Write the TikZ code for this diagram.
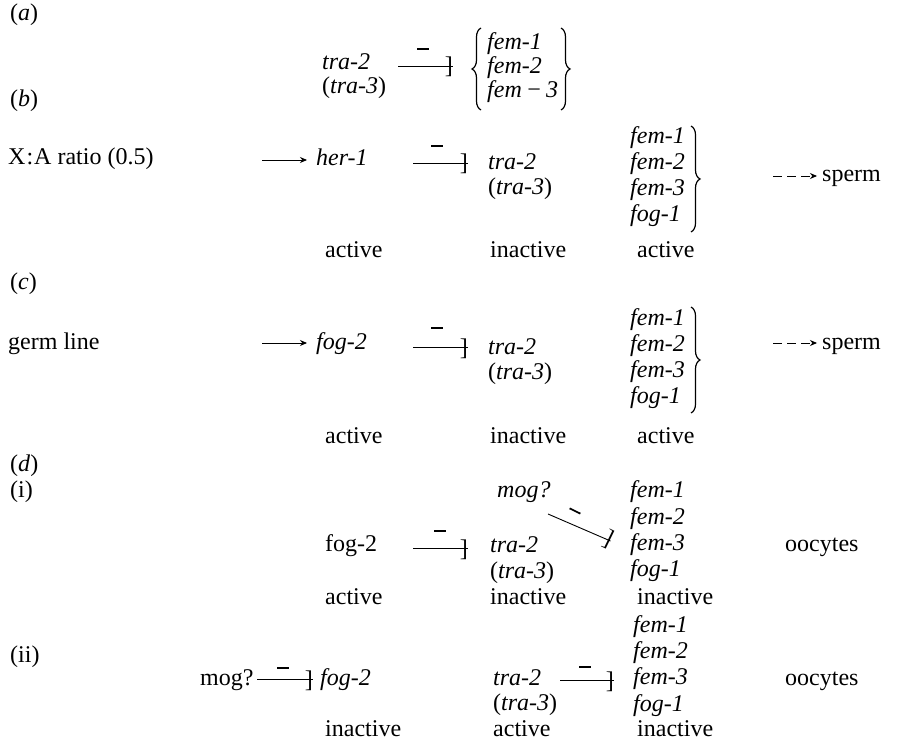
\documentclass[tikz,border=0pt]{standalone}
\usepackage{fontspec}
\setmainfont{Liberation Serif}
\usetikzlibrary{arrows.meta,decorations.pathreplacing,calc}
\begin{document}
\begin{tikzpicture}[x=1pt,y=-1pt,
  every node/.style={inner sep=0pt,anchor=base west,font=\fontsize{24}{26}\selectfont},
  gene/.style={font=\fontsize{24}{26}\selectfont\itshape},
  minus/.style={anchor=center},
  brk/.style={anchor=base east},
  inh/.style={line width=0.9pt},
  act/.style={-{Stealth[length=7pt,width=6pt]},line width=0.9pt},
  dact/.style={-{Stealth[length=7pt,width=6pt]},line width=0.9pt,dash pattern=on 9pt off 5pt},
  bracestyle/.style={decorate,decoration={brace,amplitude=9pt},line width=1.2pt}
  ]
\newcommand{\mbar}{\rule{12pt}{1.7pt}}
\useasboundingbox (0,0) rectangle (910,743);

% ---------------- (a)
\node (la) at (10,21) {(\textit{a})};
\node[gene] (atra2) at (322,70) {tra-2};
\node (atra3) at (322,94) {(\textit{tra-3})};
\node[minus] (am) at (423,49) {\mbar};
\coordinate (as) at (398,66);
\node[brk] (abr) at (453,74) {]};
\draw[inh] (as) -- (as -| abr.east);
\node[gene] (afem1) at (487,50) {fem-1};
\node[gene] (afem2) at (487,74) {fem-2};
\node[gene] (afem3) at (487,98) {fem\,−\,3};
\coordinate (alb1) at (481,110);
\coordinate (alb2) at (481,28);
\draw[bracestyle] (alb1) -- (alb2);
\coordinate (arb1) at (561,28);
\coordinate (arb2) at (561,110);
\draw[bracestyle] (arb1) -- (arb2);

% ---------------- (b)
\node (lb) at (10,107) {(\textit{b})};
\node (xa) at (8,165) {X\kern1pt:\kern1pt A ratio (0.5)};
\coordinate (ba) at (262,160);
\node[gene] (her1) at (316,166) {her-1};
\draw[act] (ba) -- ($(ba -| her1.west)+(-9,0)$);
\node[minus] (bm) at (437,146) {\mbar};
\coordinate (bs) at (413,163);
\node[brk] (bbr) at (468,171) {]};
\draw[inh] (bs) -- (bs -| bbr.east);
\node[gene] (btra2) at (488,170) {tra-2};
\node (btra3) at (488,195) {(\textit{tra-3})};
\node[gene] (bfem1) at (630,144) {fem-1};
\node[gene] (bfem2) at (630,170) {fem-2};
\node[gene] (bfem3) at (630,196) {fem-3};
\node[gene] (bfog1) at (630,222) {fog-1};
\coordinate (bb1) at (691,126);
\coordinate (bb2) at (691,232);
\draw[bracestyle] (bb1) -- (bb2);
\coordinate (bd) at (773,176);
\node (bsperm) at (822,182) {sperm};
\draw[dact] (bd) -- ($(bd -| bsperm.west)+(-5,0)$);
\node (bact1) at (325,258) {active};
\node (binact) at (490,258) {inactive};
\node (bact2) at (637,258) {active};

% ---------------- (c)
\node (lc) at (10,290) {(\textit{c})};
\node (germ) at (8,349) {germ line};
\coordinate (ca) at (262,343);
\node[gene] (cfog2) at (316,349) {fog-2};
\draw[act] (ca) -- ($(ca -| cfog2.west)+(-9,0)$);
\node[minus] (cm) at (437,328) {\mbar};
\coordinate (cs) at (413,347);
\node[brk] (cbr) at (468,355) {]};
\draw[inh] (cs) -- (cs -| cbr.east);
\node[gene] (ctra2) at (488,354) {tra-2};
\node (ctra3) at (488,379) {(\textit{tra-3})};
\node[gene] (cfem1) at (630,325) {fem-1};
\node[gene] (cfem2) at (630,351) {fem-2};
\node[gene] (cfem3) at (630,377) {fem-3};
\node[gene] (cfog1) at (630,403) {fog-1};
\coordinate (cb1) at (691,307);
\coordinate (cb2) at (691,413);
\draw[bracestyle] (cb1) -- (cb2);
\coordinate (cd) at (773,343);
\node (csperm) at (822,349) {sperm};
\draw[dact] (cd) -- ($(cd -| csperm.west)+(-5,0)$);
\node (cact1) at (325,443) {active};
\node (cinact) at (490,443) {inactive};
\node (cact2) at (637,443) {active};

% ---------------- (d)(i)
\node (ld) at (10,471) {(\textit{d})};
\node (li) at (10,497) {(i)};
\node[gene] (dmog) at (497,497) {mog?};
\node[gene] (dfem1) at (630,497) {fem-1};
\node[gene] (dfem2) at (630,524) {fem-2};
\node[gene] (dfem3) at (630,550) {fem-3};
\node[gene] (dfog1) at (630,576) {fog-1};
\node (dfog2) at (325,551) {fog-2};
\node[minus] (dm) at (440,531) {\mbar};
\coordinate (ds) at (413,548);
\node[brk] (dbr) at (468,556) {]};
\draw[inh] (ds) -- (ds -| dbr.east);
\node[gene] (dtra2) at (490,552) {tra-2};
\node (dtra3) at (490,578) {(\textit{tra-3})};
\node (doo) at (785,551) {oocytes};
\coordinate (dg) at (548,514);
\node[anchor=east,rotate=-26] (dgbr) at (612,541) {]};
\draw[inh] (dg) -- ($(dgbr.east)+(-1.5,0)$);
\node[minus,rotate=-26] (dgm) at (575,511) {\mbar};
\node (dact1) at (325,604) {active};
\node (dinact1) at (490,604) {inactive};
\node (dinact2) at (637,604) {inactive};

% ---------------- (d)(ii)
\node (lii) at (10,662) {(ii)};
\node (emog) at (200,685) {mog?};
\node[minus] (em1) at (283,668) {\mbar};
\coordinate (es1) at (257,679);
\node[brk] (ebr1) at (313,687) {]};
\draw[inh] (es1) -- (es1 -| ebr1.east);
\node[gene] (efog2) at (320,685) {fog-2};
\node[gene] (etra2) at (493,685) {tra-2};
\node (etra3) at (493,710) {(\textit{tra-3})};
\node[minus] (em2) at (585,667) {\mbar};
\coordinate (es2) at (560,680);
\node[brk] (ebr2) at (614,688) {]};
\draw[inh] (es2) -- (es2 -| ebr2.east);
\node[gene] (efem1) at (633,632) {fem-1};
\node[gene] (efem2) at (633,658) {fem-2};
\node[gene] (efem3) at (633,684) {fem-3};
\node[gene] (efog1) at (633,711) {fog-1};
\node (eoo) at (785,685) {oocytes};
\node (einact1) at (325,736) {inactive};
\node (eact) at (493,736) {active};
\node (einact2) at (637,736) {inactive};
\end{tikzpicture}
\end{document}
